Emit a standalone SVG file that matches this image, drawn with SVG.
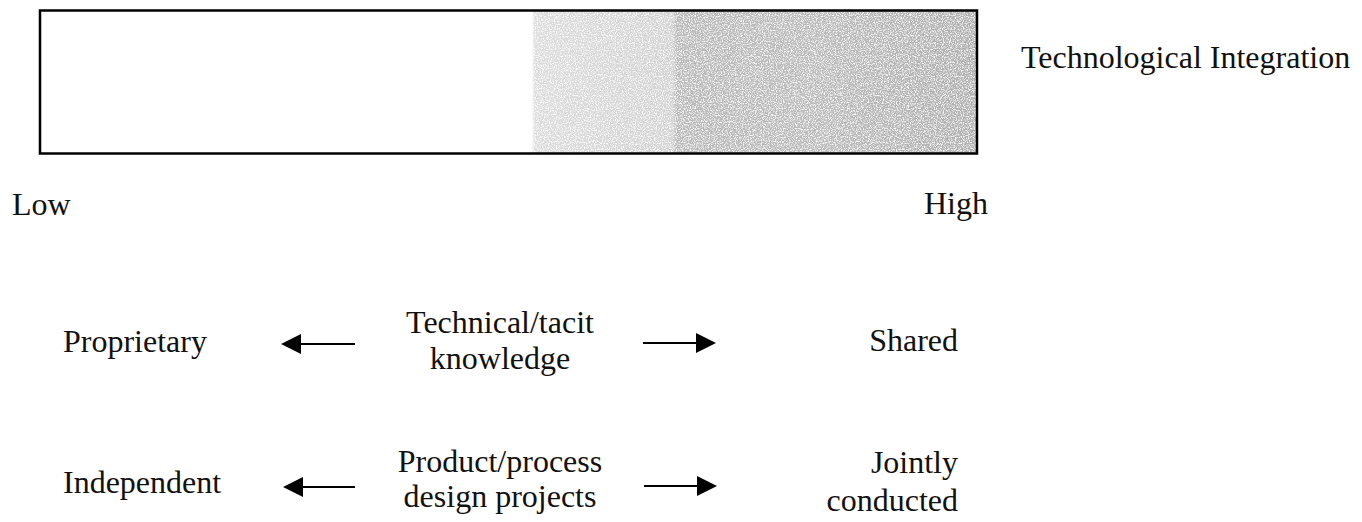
<svg xmlns="http://www.w3.org/2000/svg" width="1362" height="522" viewBox="0 0 1362 522">
  <style>
    text { font-family: "Liberation Serif", "Times New Roman", serif; font-size: 32px; fill: #111; }
    .mid { text-anchor: middle; }
    .end { text-anchor: end; }
    .conn { stroke: #000; stroke-width: 2.2; fill: none; }
  </style>
  <defs>
    <marker id="head" viewBox="0 0 10 10" refX="9" refY="5" markerWidth="20" markerHeight="20" markerUnits="userSpaceOnUse" orient="auto-start-reverse">
      <path d="M0,0 L10,5 L0,10 Z" fill="#000"/>
    </marker>
    <linearGradient id="shade" x1="40" y1="0" x2="977" y2="0" gradientUnits="userSpaceOnUse">
      <stop offset="0" stop-color="#ffffff"/>
      <stop offset="0.525" stop-color="#ffffff"/>
      <stop offset="0.528" stop-color="#dcdcdc"/>
      <stop offset="0.675" stop-color="#d2d2d2"/>
      <stop offset="0.68" stop-color="#b8b8b8"/>
      <stop offset="0.83" stop-color="#bababa"/>
      <stop offset="1" stop-color="#aeaeae"/>
    </linearGradient>
    <!-- dithered print texture on the shaded part of the bar -->
    <filter id="grain" x="0" y="0" width="1" height="1">
      <feTurbulence type="fractalNoise" baseFrequency="0.85" numOctaves="2" seed="3" result="n"/>
      <feColorMatrix in="n" type="matrix" values="0 0 0 0 1  0 0 0 0 1  0 0 0 0 1  0 0 0 -3 1.7" result="speck"/>
      <feComposite in="speck" in2="SourceGraphic" operator="in" result="s2"/>
      <feMerge><feMergeNode in="SourceGraphic"/><feMergeNode in="s2"/></feMerge>
    </filter>
  </defs>

  <!-- integration scale bar -->
  <g id="scale-bar">
    <rect x="40" y="10.5" width="937" height="143" fill="url(#shade)"/>
    <rect x="533" y="11.5" width="443" height="141" fill="url(#shade)" filter="url(#grain)"/>
    <rect x="40" y="10.5" width="937" height="143" fill="none" stroke="#000" stroke-width="2.5"/>
  </g>

  <g id="scale-title"><text x="1021" y="68">Technological Integration</text></g>
  <g id="low-label"><text x="12" y="215">Low</text></g>
  <g id="high-label"><text x="988" y="214" class="end">High</text></g>

  <!-- row 1 -->
  <g id="proprietary"><text x="63" y="352">Proprietary</text></g>
  <g id="tacit-knowledge">
    <text x="500" y="333" class="mid">Technical/tacit</text>
    <text x="500" y="369" class="mid">knowledge</text>
  </g>
  <g id="shared"><text x="958" y="351" class="end">Shared</text></g>

  <!-- row 2 -->
  <g id="independent"><text x="63" y="493">Independent</text></g>
  <g id="design-projects">
    <text x="500" y="472" class="mid">Product/process</text>
    <text x="500" y="507" class="mid">design projects</text>
  </g>
  <g id="jointly-conducted">
    <text x="958" y="473" class="end">Jointly</text>
    <text x="958" y="511" class="end">conducted</text>
  </g>

  <!-- connectors -->
  <g id="connectors">
    <line class="conn" x1="355" y1="344" x2="283" y2="344" marker-end="url(#head)"/>
    <line class="conn" x1="643" y1="343" x2="714" y2="343" marker-end="url(#head)"/>
    <line class="conn" x1="355" y1="487" x2="285" y2="487" marker-end="url(#head)"/>
    <line class="conn" x1="644" y1="486" x2="715" y2="486" marker-end="url(#head)"/>
  </g>
</svg>
